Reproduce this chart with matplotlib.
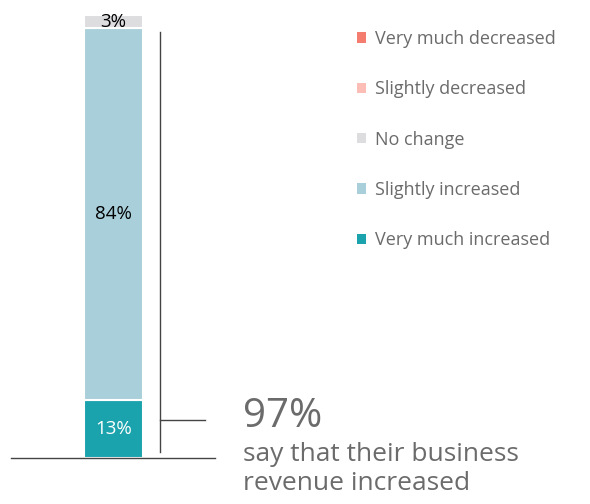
import matplotlib.pyplot as plt
from matplotlib.patches import Patch

plt.rcParams['font.family'] = ['Open Sans', 'DejaVu Sans']

categories = ['Very much increased', 'Slightly increased', 'No change',
              'Slightly decreased', 'Very much decreased']
shares = [13, 84, 3, 0, 0]
colors = ['#1ba3ad', '#a9cfda', '#dddde0', '#fcbdb6', '#f57d6f']
label_colors = ['white', 'black', 'black', 'black', 'black']

headline = '97%'
headline_lines = ['say that their business', 'revenue increased']

fig = plt.figure(figsize=(5.9, 5.04), dpi=100)
ax = fig.add_axes([0, 0.0913, 1, 0.879])
ax.set_xlim(-1.424, 8.58)
ax.set_ylim(0, 100)
ax.axis('off')

# stacked single bar
bottom = 0
for cat, val, col, tc in zip(categories, shares, colors, label_colors):
    if val == 0:
        continue
    ax.bar(0, val, width=1, bottom=bottom, align='edge', color=col,
           edgecolor='white', linewidth=1.5)
    ax.text(0.5, bottom + val / 2, f'{val}%', ha='center', va='center',
            color=tc, fontsize=13.5)
    bottom += val

# baseline under the bar
ax.plot([-1.237, 2.22], [0, 0], color='#444444', lw=1, clip_on=False)

# bracket covering the "increased" share
increased = shares[0] + shares[1]
ax.plot([1.29, 1.29], [1.3, increased - 0.8], color='#444444', lw=1)
ax.plot([1.29, 2.05], [8.5, 8.5], color='#444444', lw=1)

fig.text(243 / 590, 1 - 427 / 504, headline, fontsize=29, color='#6b6b6b',
         ha='left', va='baseline')
for i, line in enumerate(headline_lines):
    fig.text(243 / 590, 1 - (461 + 29 * i) / 504, line, fontsize=19,
             color='#6b6b6b', ha='left', va='baseline')

handles = [Patch(facecolor=c, edgecolor='none') for c in colors[::-1]]
leg = fig.legend(handles, categories[::-1], loc='upper left',
                 bbox_to_anchor=(357 / 590, 1 - 30 / 504), frameon=False,
                 fontsize=13, labelcolor='#6b6b6b', handlelength=0.5,
                 handleheight=0.5, handletextpad=0.5, labelspacing=1.79,
                 borderpad=0, borderaxespad=0)

fig.savefig('out.png', dpi=100)
